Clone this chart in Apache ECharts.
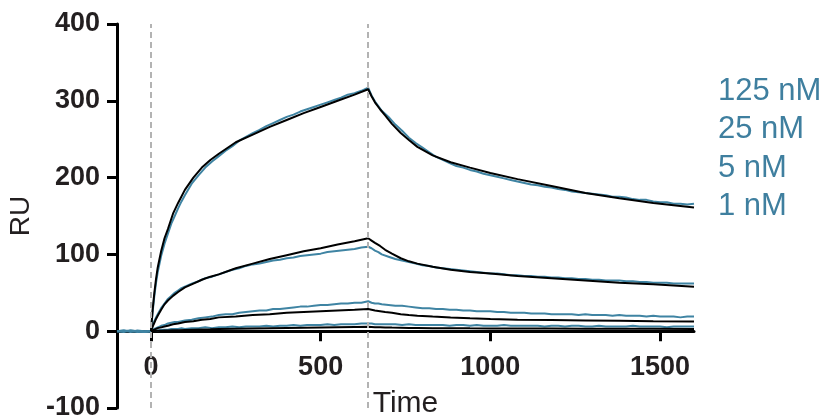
<!DOCTYPE html>
<html>
<head>
<meta charset="utf-8">
<script src="https://cdn.jsdelivr.net/npm/echarts@6/dist/echarts.min.js"></script>
<style>
  html, body { margin: 0; padding: 0; background: #fff; }
  #chart { width: 827px; height: 418px; }
</style>
</head>
<body>
<div id="chart"></div>
<script>
// concentrations (legend)
const concLabels = ['125 nM', '25 nM', '5 nM', '1 nM']

// measured sensorgrams (blue), shared time base
const blueTime = [-100, -80, -60, -40, -20, 0, 5, 10, 15,
  20, 30, 40, 50, 60, 70, 80, 90, 100,
  120, 140, 160, 180, 200, 220, 240, 260, 280, 300, 320, 340, 360, 380, 400, 420, 440, 460, 480, 500, 520, 540, 560, 580, 600, 620, 640,
  650, 660, 670,
  680, 700, 720, 740, 760, 780, 800, 820, 840, 860, 880, 900, 920, 940, 960, 980, 1000, 1020, 1040, 1060, 1080, 1100, 1120, 1140, 1160, 1180, 1200,
  1220, 1240, 1260, 1280, 1300, 1320, 1340, 1360, 1380, 1400, 1420, 1440, 1460, 1480, 1500, 1520, 1540, 1560, 1580, 1600]

const blue125 = [0, 1, -1, 1, 0, 0, 25, 46, 63,
  77, 98, 114, 127, 140, 150, 160, 169, 177,
  192, 203, 213, 221, 228, 235, 241, 248, 253, 258, 262, 267, 271, 275, 279, 282, 286, 289, 292, 295, 298, 301, 304, 308, 310, 313, 317,
  307, 299, 293,
  287, 279, 269, 261, 252, 245, 239, 233, 227, 223, 219, 215, 213, 210, 208, 205, 203, 201, 199, 197, 195, 193, 191, 190, 188,
  187, 185, 184, 182, 181, 180, 179, 178, 177, 175, 175, 174, 172, 171, 171, 169, 168, 168, 166, 166, 165, 166]

const blue25 = [0, -1, 1, 0, -1, 0, 7, 13, 18,
  22, 30, 36, 42, 46, 50, 53, 56, 58,
  62, 65, 69, 71, 74, 77, 80, 82, 85, 87, 88, 90, 92, 93, 95, 96, 98, 99, 100, 101, 103, 104, 105, 106, 107, 109, 110,
  108, 105, 103,
  100, 97, 94, 92, 90, 88, 86, 85, 83, 82, 81, 80, 79, 78, 77, 76, 75, 75, 74, 73, 73, 72, 72, 71, 71,
  70, 70, 69, 69, 68, 68, 67, 67, 66, 66, 66, 65, 65, 64, 64, 63, 63, 63, 62, 62, 62, 62]

const blue5 = [0, 1, 0, -1, 0, 0, 2, 3, 4,
  5, 7, 8, 10, 11, 12, 12, 13, 14,
  15, 17, 18, 19, 21, 22, 22, 24, 25, 26, 27, 27, 29, 29, 30, 31, 32, 32, 33, 34, 34, 35, 36, 36, 37, 37, 39,
  37, 36, 36,
  35, 34, 33, 33, 32, 31, 30, 30, 29, 29, 28, 28, 27, 27, 26, 26, 26, 25, 25, 24, 24, 24, 23, 23, 23,
  22, 22, 22, 22, 21, 22, 21, 21, 21, 20, 21, 20, 20, 20, 19, 20, 19, 19, 19, 18, 19, 19]

const blue1 = [0, 0, 1, 0, -1, 0, 0, 1, 1,
  1, 2, 2, 2, 3, 3, 3, 4, 3,
  4, 4, 5, 4, 5, 5, 6, 5, 6, 6, 6, 7, 6, 7, 7, 8, 7, 8, 8, 8, 9, 8, 9, 9, 9, 10, 10,
  10, 9, 9,
  9, 9, 9, 8, 9, 8, 8, 8, 8, 8, 7, 8, 8, 7, 8, 7, 7, 7, 8, 7, 7, 7, 7, 7, 6,
  7, 7, 6, 7, 7, 6, 6, 7, 6, 6, 6, 6, 7, 6, 6, 6, 6, 5, 6, 6, 6, 6]

// fitted curves (black), shared time base
const fitTime = [0, 5, 10, 15, 20, 30, 40, 50, 65, 80, 100, 125, 150, 175, 200, 250, 300, 350, 400, 450,
  500, 550, 600, 640, 650, 660, 675, 690, 710, 736, 760, 785, 830, 883, 940, 1000, 1080, 1180, 1280, 1380, 1480, 1600]
const fit125 = [0, 28, 50, 68, 83, 104, 121, 133, 153, 167, 184, 200, 213, 223, 231, 246, 256, 266, 275, 284,
  292, 300, 308, 315, 306, 298, 289, 281, 270, 258, 249, 240, 229, 220, 213, 206, 198, 189, 180, 173, 167, 161]
const fit25 = [0, 6, 11, 16, 20, 28, 35, 40, 46, 51, 57, 62, 67, 71, 74, 82, 88, 94, 99, 104,
  108, 113, 117, 121, 118, 115, 111, 106, 101, 95, 91, 88, 84, 80, 77, 75, 72, 69, 66, 63, 61, 58]
const fit5 = [0, 1, 2, 3, 4, 5, 6, 7, 9, 10, 12, 13, 15, 16, 18, 19, 21, 22, 24, 25,
  26, 27, 28, 29, 28, 27, 26, 25, 24, 22, 21, 20, 19, 18, 17, 16, 15, 14.5, 14, 13.5, 13, 12.5]
const fit1 = [0, 0.2, 0.3, 0.4, 0.5, 0.7, 0.9, 1, 1.2, 1.4, 1.7, 2, 2.3, 2.5, 2.8, 3.2, 3.6, 4, 4.3, 4.6,
  4.9, 5.2, 5.5, 5.7, 5.5, 5.3, 5.1, 4.9, 4.7, 4.5, 4.3, 4.2, 4, 3.8, 3.7, 3.6, 3.5, 3.4, 3.3, 3.2, 3.1, 3]

// injection start / stop markers and axis ticks
const injectTimes = [0, 640]
const xTicks = [0, 500, 1000, 1500]

const blueColor = '#3f84a3'
const font = 'Liberation Sans, Arial, sans-serif'

function zip (xs, ys) {
  return xs.map((x, i) => [x, ys[i]])
}

const blueSets = [blue125, blue25, blue5, blue1]
const fitSets = [fit125, fit25, fit5, fit1]

let series = []
blueSets.forEach((vals, i) => {
  series.push({
    name: concLabels[i],
    type: 'line',
    data: zip(blueTime, vals),
    showSymbol: false,
    lineStyle: { color: blueColor, width: 2 },
    itemStyle: { color: blueColor },
    z: 2
  })
})
fitSets.forEach((vals, i) => {
  let s = {
    name: 'fit ' + concLabels[i],
    type: 'line',
    data: zip(fitTime, vals),
    showSymbol: false,
    lineStyle: { color: '#000', width: 2 },
    itemStyle: { color: '#000' },
    z: 3
  }
  if (i === 0) {
    s.markLine = {
      symbol: 'none',
      silent: true,
      label: { show: false },
      lineStyle: { type: [6, 4], color: '#b3b3b3', width: 2 },
      data: injectTimes.map(t => ({ xAxis: t }))
    }
  }
  series.push(s)
})

// plot spans -100..400 over 384px; the x axis sits at RU = 0
const plotH = 384
const zeroShift = -plotH / 5

let myChart = echarts.init(document.getElementById('chart'))
myChart.setOption({
  animation: false,
  backgroundColor: '#fff',
  textStyle: { fontFamily: font },
  grid: {
    left: 117,
    right: 133,
    top: 24,
    height: plotH,
    outerBoundsMode: 'none'
  },
  legend: {
    orient: 'vertical',
    left: 713,
    top: 72,
    padding: 0,
    itemGap: 0,
    itemWidth: 0,
    itemHeight: 0,
    icon: 'none',
    selectedMode: false,
    data: concLabels,
    textStyle: {
      color: '#3f7f9f',
      fontSize: 31,
      lineHeight: 38.5,
      fontFamily: font
    }
  },
  xAxis: {
    type: 'value',
    min: -100,
    max: 1600,
    offset: zeroShift,
    splitLine: { show: false },
    axisLine: {
      onZero: false,
      lineStyle: { color: '#000', width: 3 }
    },
    axisTick: {
      customValues: xTicks,
      length: 10,
      lineStyle: { color: '#000', width: 3 }
    },
    axisLabel: {
      customValues: xTicks,
      formatter: function (value) {
        return value.toString()
      },
      margin: 23,
      color: '#231f20',
      fontWeight: 'bold',
      fontSize: 27,
      fontFamily: font
    },
    name: 'Time',
    nameLocation: 'middle',
    nameGap: 58,
    nameTextStyle: {
      color: '#231f20',
      fontSize: 30,
      fontFamily: font
    }
  },
  yAxis: {
    type: 'value',
    min: -100,
    max: 400,
    interval: 100,
    splitLine: { show: false },
    axisLine: {
      show: true,
      onZero: false,
      lineStyle: { color: '#000', width: 3 }
    },
    axisTick: {
      show: true,
      length: 10,
      lineStyle: { color: '#000', width: 3 }
    },
    axisLabel: {
      margin: 17,
      color: '#231f20',
      fontWeight: 'bold',
      fontSize: 27,
      fontFamily: font
    },
    name: 'RU',
    nameLocation: 'middle',
    nameGap: 80,
    nameTextStyle: {
      color: '#231f20',
      fontSize: 28,
      fontFamily: font
    }
  },
  series: series
})
</script>
</body>
</html>
